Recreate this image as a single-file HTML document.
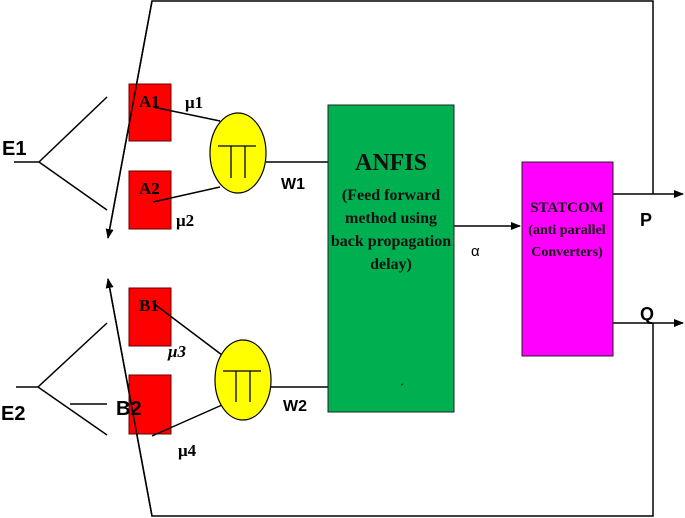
<!DOCTYPE html>
<html><head><meta charset="utf-8"><style>body{margin:0;background:#fff}svg{display:block}</style></head><body>
<svg width="685" height="518" viewBox="0 0 685 518" xmlns="http://www.w3.org/2000/svg">
<defs><marker id="ar" markerWidth="10" markerHeight="8" refX="9" refY="4" orient="auto" markerUnits="userSpaceOnUse"><path d="M0,0 L10,4 L0,8 z" fill="#000"/></marker></defs>
<g stroke="#000" stroke-width="1.5" fill="none">
<polyline points="653,194 653,1 152,1 108,238" marker-end="url(#ar)"/>
<polyline points="653,323 653,516 152,516 108,279" marker-end="url(#ar)"/>
<line x1="14" y1="162" x2="39" y2="162"/><line x1="39" y1="162" x2="107" y2="97"/><line x1="39" y1="162" x2="107" y2="210"/>
<line x1="16" y1="387" x2="38" y2="387"/><line x1="38" y1="387" x2="107" y2="323"/><line x1="38" y1="387" x2="107" y2="435"/>
<line x1="70" y1="404" x2="107" y2="404"/>
</g>
<g fill="#f00" stroke="#600" stroke-width="1">
<rect x="129" y="84" width="42" height="57"/><rect x="129" y="171" width="42" height="58"/>
<rect x="129" y="288" width="42" height="58"/><rect x="129" y="375" width="42" height="59"/>
</g>
<polyline points="152,1 108,238" stroke="#000" stroke-width="1.5" fill="none"/>
<line x1="152" y1="516" x2="108" y2="279" stroke="#000" stroke-width="1.5"/>
<g stroke="#000" stroke-width="1.5">
<line x1="153" y1="107" x2="220" y2="121"/><line x1="153" y1="202" x2="220" y2="187"/>
<line x1="266" y1="162" x2="328" y2="162"/>
<line x1="153" y1="303" x2="222" y2="355"/><line x1="152" y1="436" x2="222" y2="405"/>
<line x1="270" y1="387" x2="328" y2="387"/>
<line x1="454" y1="226" x2="520" y2="226" marker-end="url(#ar)"/>
<line x1="613" y1="194" x2="683" y2="194" marker-end="url(#ar)"/>
<line x1="613" y1="323" x2="683" y2="323" marker-end="url(#ar)"/>
</g>
<ellipse cx="238" cy="153" rx="28" ry="40" fill="#ff0" stroke="#000" stroke-width="1.2"/>
<ellipse cx="243" cy="380" rx="28" ry="40" fill="#ff0" stroke="#000" stroke-width="1.2"/>
<g stroke="#000" stroke-width="1.3">
<line x1="218" y1="146" x2="256" y2="146"/><line x1="231" y1="146" x2="231" y2="178"/><line x1="245" y1="146" x2="245" y2="178"/>
<line x1="223" y1="371" x2="261" y2="371"/><line x1="236" y1="371" x2="236" y2="402"/><line x1="250" y1="371" x2="250" y2="402"/>
</g>
<rect x="328" y="105" width="126" height="307" fill="#00b050" stroke="#222" stroke-width="1"/>
<rect x="522" y="162" width="91" height="194" fill="#f0f" stroke="#222" stroke-width="1"/>
<g font-family="Liberation Sans, sans-serif" font-weight="bold" font-size="20" fill="#000">
<text x="2" y="155">E1</text><text x="1" y="420">E2</text><text x="116" y="415">B2</text>
</g>
<g font-family="Liberation Sans, sans-serif" font-weight="bold" font-size="16" fill="#000">
<text x="281" y="189">W1</text><text x="283" y="411">W2</text>
<text x="640" y="226" font-size="18">P</text><text x="640" y="320" font-size="18">Q</text>
</g>
<text x="471" y="256" font-family="Liberation Sans, sans-serif" font-size="15">α</text>
<g font-family="Liberation Serif, serif" font-weight="bold" font-size="17" fill="#000">
<text x="139" y="107">A1</text><text x="139" y="194">A2</text><text x="139" y="311">B1</text>
<text x="185" y="108">μ1</text><text x="176" y="226">μ2</text>
<text x="168" y="357" font-style="italic">μ3</text><text x="178" y="456">μ4</text>
</g>
<g font-family="Liberation Serif, serif" font-weight="bold" fill="#111" text-anchor="middle">
<text x="391" y="170" font-size="24">ANFIS</text>
<text x="391" y="200" font-size="16">(Feed forward</text>
<text x="391" y="223" font-size="16">method using</text>
<text x="391" y="246" font-size="16">back propagation</text>
<text x="391" y="269" font-size="16">delay)</text>
<text x="402" y="392" font-size="12">´</text>
<text x="567" y="212" font-size="15">STATCOM</text>
<text x="567" y="234" font-size="14">(anti parallel</text>
<text x="567" y="256" font-size="14">Converters)</text>
</g>
</svg>
</body></html>
